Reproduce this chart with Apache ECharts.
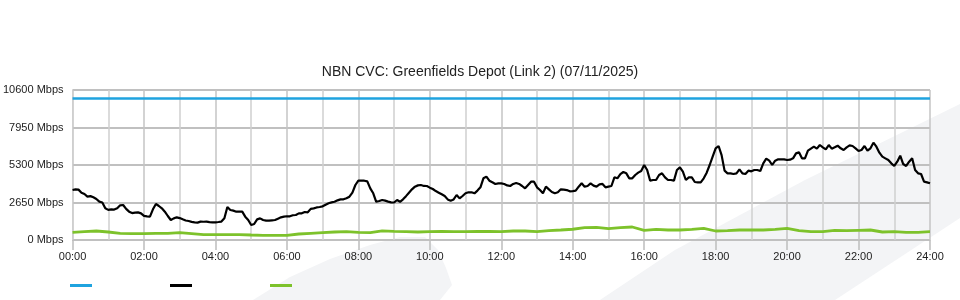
<!DOCTYPE html>
<html>
<head>
<meta charset="utf-8">
<script src="https://cdn.jsdelivr.net/npm/echarts@6/dist/echarts.min.js"></script>
<style>html,body{margin:0;padding:0;background:#fff}#c{width:960px;height:300px}</style>
</head>
<body>
<div id="c"></div>
<script>
// ---- data ----
var titleText = 'NBN CVC: Greenfields Depot (Link 2) (07/11/2025)';
var yTicks = [0, 2650, 5300, 7950, 10600];
// capacity (blue), sampled at start and end of day
var capacityHours = [0, 24];
var capacity = [10000, 10000];
// black series: one sample every 5 minutes, 00:00 .. 24:00 (one row per hour)
var blackStepMin = 5;
var black = [
 3530,3580,3560,3345,3250,3062,3100,3015,2900,2709,2650,2238,
 2130,2167,2150,2238,2450,2473,2200,2002,1900,1931,1950,1884,
 1700,1672,1650,2167,2550,2403,2238,2002,1696,1413,1531,1602,
 1550,1460,1380,1343,1280,1249,1230,1296,1290,1296,1260,1249,
 1250,1272,1300,1531,2330,2120,2073,2002,2002,2002,1649,1413,
 1060,1130,1460,1531,1413,1366,1366,1390,1413,1508,1602,1649,
 1680,1672,1750,1767,1880,1884,1980,1955,2200,2238,2300,2332,
 2380,2497,2600,2662,2700,2803,2870,2874,2950,3062,3350,3887,
 4200,4193,4190,4146,3650,3300,2700,2756,2830,2780,2710,2662,
 2650,2827,2700,2874,3100,3345,3580,3769,3860,3887,3820,3816,
 3700,3604,3460,3345,3230,3109,2870,2780,2870,3180,2940,3109,
 3300,3369,3370,3298,3490,3722,4360,4476,4190,4075,3960,4005,
 4000,3957,3860,3816,3960,4028,3960,3816,3650,3887,4120,4122,
 3720,3533,3300,3769,3580,3392,3300,3369,3580,3557,3530,3439,
 3460,3486,3770,4005,3770,3816,4000,3840,3770,3934,3960,3722,
 3770,3816,4430,4358,4660,4805,4710,4358,4360,4594,4760,4876,
 5300,4947,4193,4240,4240,4594,4711,4430,4240,4240,4193,4947,
 5135,4829,4240,4430,4430,4099,4075,4075,4360,4758,5300,5889,
 6478,6643,6000,4900,4711,4711,4664,4711,4994,4711,4664,4900,
 4853,4947,4947,4876,5418,5748,5606,5300,5606,5700,5700,5700,
 5653,5677,5771,6124,6195,5771,5771,6313,6454,6596,6454,6713,
 6549,6407,6713,6454,6549,6666,6478,6360,6549,6690,6643,6478,
 6289,6360,6643,6313,6478,6878,6596,6171,5889,5771,5653,5418,
 5230,5535,5960,5370,5230,5535,5771,4947,4711,4664,4122,4075,
 4005
];
// green series: one sample every 20 minutes, 00:00 .. 24:00
var greenStepMin = 20;
var green = [
 542,589,636, 565,471,450, 450,470,470, 518,450,377,
 377,377,377, 353,330,330, 330,424,471, 518,565,589,
 542,518,640, 612,589,565, 589,612,589, 589,600,600,
 589,636,636, 589,660,707, 760,870,895, 800,870,918,
 683,754,707, 707,754,824, 636,660,707, 707,707,754,
 824,660,589, 589,683,660, 683,707,565, 589,542,542,
 589
];
var legendNames = ['capacity', 'series2', 'series3'];

function toPairs(vals, stepMin) {
  return vals.map(function (v, i) { return [i * stepMin / 60, v]; });
}
function hh(v) { return (v < 10 ? '0' : '') + v + ':00'; }

var chart = echarts.init(document.getElementById('c'), null, {renderer: 'canvas'});
var font = 'Liberation Sans, Arial, sans-serif';
chart.setOption({
  animation: false,
  backgroundColor: '#ffffff',
  title: {
    text: titleText, left: 'center', top: 60,
    textStyle: {fontFamily: font, fontSize: 14, fontWeight: 'normal', color: '#222'}
  },
  graphic: [
    {type: 'polygon', z: -10, silent: true,
     shape: {points: [[253,300],[290,277],[330,259],[370,245],[400,237],[425,237],[438,250],[446,268],[452,285],[440,300]]},
     style: {fill: '#f3f4f6'}},
    {type: 'polygon', z: -10, silent: true,
     shape: {points: [[600,300],[675,250],[805,180],[960,104],[960,218],[835,300]]},
     style: {fill: '#f3f4f6'}}
  ],
  legend: [0, 1, 2].map(function (k) {
    return {
      data: [legendNames[k]], left: 70 + k * 100, top: 284, padding: 0,
      icon: 'rect', itemWidth: 22, itemHeight: 3, formatter: function () { return ''; },
      selectedMode: false, textStyle: {fontSize: 1}
    };
  }),
  grid: {left: 70, right: 30, top: 90, bottom: 60, containLabel: false},
  xAxis: {
    type: 'value', min: 0, max: 24, interval: 2,
    axisLine: {show: true, lineStyle: {color: '#c0c0c0', width: 1}},
    axisTick: {show: true, length: 10, lineStyle: {color: '#bdbdbd', width: 1.5}},
    axisLabel: {formatter: hh, fontFamily: font, fontSize: 11, color: '#222', margin: 11},
    splitLine: {show: true, lineStyle: {color: '#c4c4c4', width: 1.5}},
    minorTick: {show: false, splitNumber: 2},
    minorSplitLine: {show: true, lineStyle: {color: '#cfcfcf', width: 1.5}}
  },
  yAxis: {
    type: 'value', min: yTicks[0], max: yTicks[yTicks.length - 1], interval: 2650,
    axisLine: {show: true, lineStyle: {color: '#cfcfcf', width: 1}},
    axisTick: {show: false},
    axisLabel: {formatter: function (v) { return v + ' Mbps'; }, fontFamily: font, fontSize: 11, color: '#222', margin: 9},
    splitLine: {show: true, lineStyle: {color: '#c0c0c0', width: 2}}
  },
  series: [
    {name: legendNames[0], type: 'line', showSymbol: false, color: '#1fa3df',
     lineStyle: {width: 2.5, color: '#1fa3df'},
     data: capacityHours.map(function (h, i) { return [h, capacity[i]]; })},
    {name: legendNames[1], type: 'line', showSymbol: false, color: '#000000',
     lineStyle: {width: 2.2, color: '#000000'}, data: toPairs(black, blackStepMin)},
    {name: legendNames[2], type: 'line', showSymbol: false, color: '#7dc22b',
     lineStyle: {width: 2.8, color: '#7dc22b'}, data: toPairs(green, greenStepMin)}
  ]
});
</script>
</body>
</html>
